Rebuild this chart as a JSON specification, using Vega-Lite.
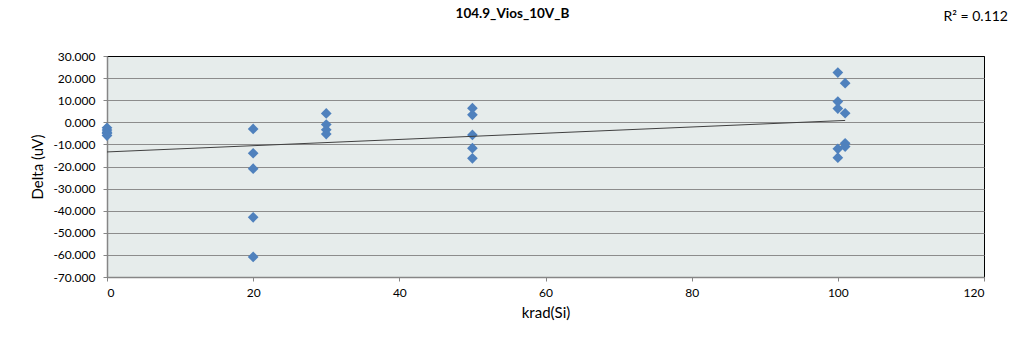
{
  "$schema": "https://vega.github.io/schema/vega-lite/v6.json",
  "width": 877,
  "height": 221,
  "autosize": {"type": "none"},
  "padding": {"left": 107, "top": 56, "right": 46, "bottom": 69},
  "background": "white",
  "title": {
    "text": "104.9_Vios_10V_B",
    "font": "Lato",
    "fontSize": 13.5,
    "fontWeight": "bold",
    "color": "#000000",
    "anchor": "middle",
    "dx": -33,
    "dy": 21,
    "offset": 0,
    "baseline": "alphabetic"
  },
  "config": {
    "locale": {"number": {"decimal": ".", "thousands": ",", "grouping": [3], "currency": ["$", ""], "minus": "-"}},
    "view": {"fill": "#E6ECEB", "stroke": "#000000", "strokeWidth": 1},
    "axis": {
      "labelFont": "Lato",
      "labelFontSize": 12,
      "labelColor": "#000000",
      "titleFont": "Lato",
      "titleFontSize": 15,
      "titleFontWeight": "normal",
      "titleColor": "#000000",
      "domainColor": "#868686",
      "domainWidth": 1.5,
      "tickColor": "#868686",
      "tickSize": 4,
      "labelOverlap": false
    }
  },
  "data": {
    "values": [
      {"krad": 0, "delta": -2.5},
      {"krad": 0, "delta": -3.5},
      {"krad": 0, "delta": -4.5},
      {"krad": 0, "delta": -5.0},
      {"krad": 0, "delta": -6.0},
      {"krad": 20, "delta": -3.0},
      {"krad": 20, "delta": -14.0},
      {"krad": 20, "delta": -21.0},
      {"krad": 20, "delta": -43.0},
      {"krad": 20, "delta": -60.9},
      {"krad": 30, "delta": 4.0},
      {"krad": 30, "delta": -1.0},
      {"krad": 30, "delta": -3.4},
      {"krad": 30, "delta": -5.3},
      {"krad": 50, "delta": 6.4},
      {"krad": 50, "delta": 3.4},
      {"krad": 50, "delta": -5.7},
      {"krad": 50, "delta": -11.7},
      {"krad": 50, "delta": -16.3},
      {"krad": 100, "delta": 22.5},
      {"krad": 100, "delta": 9.4},
      {"krad": 100, "delta": 6.2},
      {"krad": 100, "delta": -12.0},
      {"krad": 100, "delta": -16.0},
      {"krad": 101, "delta": 17.7},
      {"krad": 101, "delta": 4.1},
      {"krad": 101, "delta": -9.5},
      {"krad": 101, "delta": -11.0}
    ]
  },
  "layer": [
    {
      "mark": {"type": "point", "shape": "diamond", "filled": true, "color": "#4F81BD", "opacity": 1, "size": 115},
      "encoding": {
        "x": {
          "field": "krad", "type": "quantitative",
          "scale": {"domain": [0, 120], "nice": false, "zero": false},
          "axis": {"values": [0, 20, 40, 60, 80, 100, 120], "tickCount": 20, "grid": false, "title": "krad(Si)", "labelPadding": 6, "titlePadding": 7}
        },
        "y": {
          "field": "delta", "type": "quantitative",
          "scale": {"domain": [-70, 30], "nice": false, "zero": false},
          "axis": {
            "values": [-70, -60, -50, -40, -30, -20, -10, 0, 10, 20, 30],
            "tickCount": 20,
            "format": ".3f",
            "grid": true,
            "gridColor": {"condition": {"test": "datum.value === 30", "value": "#000000"}, "value": "#8C8C8C"},
            "gridWidth": 1,
            "title": "Delta (uV)",
            "labelPadding": 8,
            "titlePadding": 7
          }
        }
      }
    },
    {
      "transform": [{"regression": "delta", "on": "krad", "extent": [0, 101]}],
      "mark": {"type": "line", "color": "#404040", "strokeWidth": 1},
      "encoding": {
        "x": {"field": "krad", "type": "quantitative"},
        "y": {"field": "delta", "type": "quantitative"}
      }
    },
    {
      "data": {"values": [{"label": "R² = 0.112"}]},
      "mark": {"type": "text", "font": "Lato", "fontSize": 14, "color": "#000000", "align": "right", "baseline": "middle", "dx": 24, "dy": -39},
      "encoding": {
        "x": {"datum": 120, "type": "quantitative"},
        "y": {"datum": 30, "type": "quantitative"},
        "text": {"field": "label", "type": "nominal"}
      }
    }
  ]
}
